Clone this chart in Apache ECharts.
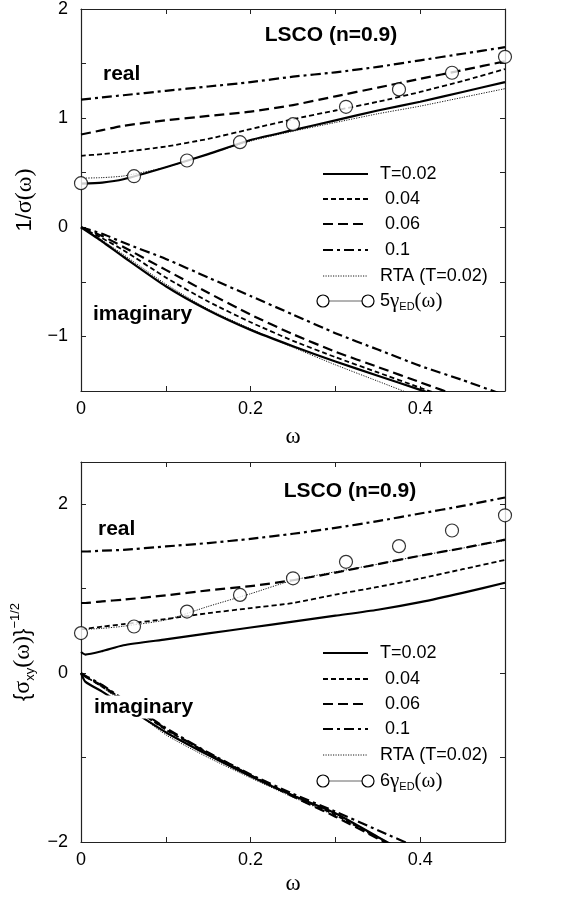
<!DOCTYPE html>
<html><head><meta charset="utf-8">
<script src="https://cdn.jsdelivr.net/npm/echarts@6/dist/echarts.min.js"></script>
<style>html,body{margin:0;padding:0;background:#fff}#c{width:564px;height:897px}</style>
</head><body><div id="c"></div>
<script>
// ---------- data ----------
const omega = [0, 0.025, 0.05, 0.1, 0.15, 0.2, 0.25, 0.3, 0.35, 0.4, 0.45, 0.5];
// top panel: 1/sigma(omega)
const reTopT002 = [0.40, 0.41, 0.44, 0.55, 0.67, 0.80, 0.89, 0.98, 1.07, 1.15, 1.24, 1.33];
const reTopT004 = [0.655, 0.67, 0.69, 0.74, 0.81, 0.90, 0.99, 1.07, 1.15, 1.24, 1.34, 1.45];
const reTopT006 = [0.85, 0.89, 0.93, 0.98, 1.02, 1.06, 1.12, 1.20, 1.28, 1.36, 1.44, 1.52];
const reTopT01  = [1.17, 1.19, 1.21, 1.25, 1.29, 1.33, 1.38, 1.42, 1.47, 1.53, 1.59, 1.65];
const reTopRTA  = [0.45, 0.455, 0.47, 0.55, 0.67, 0.79, 0.88, 0.96, 1.04, 1.11, 1.19, 1.27];
const imTopT002 = [0, -0.13, -0.27, -0.54, -0.76, -0.94, -1.09, -1.23, -1.36, -1.49, -1.62, -1.75];
const imTopT004 = [0, -0.10, -0.21, -0.46, -0.68, -0.87, -1.04, -1.19, -1.33, -1.47, -1.61, -1.75];
const imTopT006 = [0, -0.08, -0.18, -0.39, -0.60, -0.80, -0.98, -1.14, -1.28, -1.42, -1.56, -1.70];
const imTopT01  = [0, -0.06, -0.14, -0.29, -0.46, -0.63, -0.80, -0.97, -1.12, -1.27, -1.40, -1.54];
const imTopRTA  = [0, -0.12, -0.25, -0.52, -0.75, -0.93, -1.10, -1.26, -1.41, -1.56, -1.71, -1.86];
const omegaED = [0, 0.0625, 0.125, 0.1875, 0.25, 0.3125, 0.375, 0.4375, 0.5];
const gammaTop = [0.404, 0.468, 0.612, 0.780, 0.945, 1.104, 1.263, 1.416, 1.562];
// bottom panel: {sigma_xy(omega)}^(-1/2)
const omegaB = [0, 0.005, 0.025, 0.05, 0.1, 0.15, 0.2, 0.25, 0.3, 0.35, 0.4, 0.45, 0.5];
const reBotT002 = [0.25, 0.22, 0.26, 0.33, 0.40, 0.47, 0.54, 0.61, 0.68, 0.75, 0.84, 0.95, 1.07];
const reBotT004 = [0.52, 0.525, 0.55, 0.58, 0.64, 0.71, 0.77, 0.83, 0.93, 1.02, 1.12, 1.23, 1.34];
const reBotT006 = [0.83, 0.83, 0.85, 0.87, 0.92, 0.98, 1.03, 1.10, 1.19, 1.29, 1.39, 1.48, 1.58];
const reBotT01  = [1.44, 1.44, 1.45, 1.46, 1.50, 1.54, 1.59, 1.65, 1.72, 1.80, 1.89, 1.98, 2.08];
const reBotRTA  = [0.52, 0.52, 0.53, 0.555, 0.63, 0.79, 0.94, 1.10, 1.20, 1.29, 1.39, 1.48, 1.57];
const imBotT002 = [0, -0.10, -0.22, -0.38, -0.70, -0.97, -1.22, -1.45, -1.66, -1.94, -2.22, -2.5, -2.8];
const imBotT004 = [0, -0.04, -0.16, -0.33, -0.67, -0.95, -1.21, -1.45, -1.68, -1.95, -2.20, -2.5, -2.8];
const imBotT006 = [0, -0.04, -0.15, -0.32, -0.66, -0.95, -1.21, -1.46, -1.70, -1.96, -2.22, -2.5, -2.8];
const imBotT01  = [0, -0.03, -0.14, -0.31, -0.65, -0.94, -1.20, -1.43, -1.64, -1.86, -2.08, -2.3, -2.5];
const imBotRTA  = [0, -0.04, -0.17, -0.35, -0.73, -1.00, -1.24, -1.47, -1.69, -1.94, -2.20, -2.5, -2.8];
const gammaBot = [0.474, 0.552, 0.729, 0.926, 1.123, 1.318, 1.504, 1.689, 1.869];
const xTicks = [0, 0.2, 0.4];
const legendLabels = ['T=0.02', ' 0.04', ' 0.06', ' 0.1', 'RTA (T=0.02)'];

// ---------- styles ----------
const SANS = 'Liberation Sans, Arial, sans-serif';
const SERIF = 'Liberation Serif, Times New Roman, serif';
const styles = {
  T002: {type: 'solid', width: 2.2},
  T004: {type: [5, 3], width: 1.8},
  T006: {type: [10, 5], width: 2.2},
  T01:  {type: [10, 4, 3, 4], width: 2.2},
  RTA:  {type: [1.2, 1.3], width: 0.9}
};
const pair = (xs, ys) => xs.map((x, i) => [x, ys[i]]);
function line(name, xs, ys, st, g) {
  return {type: 'line', name, xAxisIndex: g * 2, yAxisIndex: g * 2, data: pair(xs, ys),
    showSymbol: false, symbol: 'none', smooth: 0.2, clip: true,
    lineStyle: {color: '#000', width: st.width, type: st.type, join: 'round'}, z: 3, silent: true};
}
function circles(ys, g) {
  return {type: 'scatter', xAxisIndex: g * 2, yAxisIndex: g * 2, data: pair(omegaED, ys),
    symbol: 'circle', symbolSize: 13, clip: false,
    itemStyle: {color: '#fff', borderColor: '#000', borderWidth: 1.2}, z: 5, silent: true};
}
const minus = v => String(v).replace('-', '\u2212');
function xAx(g, pos, labels, gap) {
  return {type: 'value', gridIndex: g, position: pos, min: 0, max: 0.5, interval: 0.1,
    axisLine: {show: true, onZero: false, lineStyle: {color: '#222', width: 1.2}},
    axisTick: {show: true, inside: true, length: 5, lineStyle: {color: '#222', width: 1}},
    splitLine: {show: false},
    axisLabel: {show: labels, margin: 9, color: '#000', fontFamily: SANS, fontSize: 18,
      formatter: v => xTicks.some(t => Math.abs(t - v) < 1e-6) ? String(+v.toFixed(1)) : ''},
    name: labels ? 'ω' : '', nameLocation: 'middle', nameGap: gap || 33,
    nameTextStyle: {fontFamily: SERIF, fontSize: 23, color: '#000'}};
}
function yAx(g, pos, min, max, interval, labelSet, name, rich) {
  return {type: 'value', gridIndex: g, position: pos, min, max, interval,
    axisLine: {show: true, onZero: false, lineStyle: {color: '#222', width: 1.2}},
    axisTick: {show: true, inside: true, length: 5, lineStyle: {color: '#222', width: 1}},
    splitLine: {show: false},
    axisLabel: {show: !!labelSet, margin: 13, color: '#000', fontFamily: SANS, fontSize: 18,
      formatter: v => labelSet && labelSet.some(t => Math.abs(t - v) < 1e-6) ? minus(Math.round(v)) : ''},
    name: name || '', nameLocation: 'middle', nameGap: 42,
    nameTextStyle: {fontFamily: SANS, fontSize: 22, color: '#000', rich: rich || {}}};
}

const richTop = {
  n: {fontFamily: SANS, fontSize: 22, color: '#000'},
  g: {fontFamily: SERIF, fontSize: 24, color: '#000'}
};
const richBot = {
  g: {fontFamily: SERIF, fontSize: 24, color: '#000', lineHeight: 28},
  n: {fontFamily: SANS, fontSize: 22, color: '#000', lineHeight: 28},
  sub: {fontFamily: SANS, fontSize: 13, color: '#000', verticalAlign: 'bottom', lineHeight: 13},
  sup: {fontFamily: SANS, fontSize: 13, color: '#000', verticalAlign: 'top', lineHeight: 13}
};

// ---------- legend & annotations (graphic) ----------
const G = [];
function txt(x, y, text, opt) {
  G.push({type: 'text', x, y, z: 100, silent: true, style: Object.assign({text, fill: '#000',
    font: '18px ' + SANS, textVerticalAlign: 'middle'}, opt || {})});
}
const legendKeys = ['T002', 'T004', 'T006', 'T01', 'RTA'];
function legend(ys, factor) {
  const x1 = 323, x2 = 368;
  legendKeys.forEach((k, i) => {
    const y = ys[i];
    const st = styles[k];
    G.push({type: 'line', z: 100, shape: {x1, y1: y, x2, y2: y}, silent: true,
      style: {stroke: '#000', lineWidth: st.width, lineDash: st.type === 'solid' ? null : st.type}});
    txt(380, y, legendLabels[i]);
  });
  const y = ys[5];
  G.push({type: 'line', z: 100, shape: {x1, y1: y, x2, y2: y}, silent: true, style: {stroke: '#666', lineWidth: 1}});
  [x1, x2].forEach(cx => G.push({type: 'circle', shape: {cx, cy: y, r: 6}, silent: true,
    style: {fill: '#fff', stroke: '#000', lineWidth: 1.2}, z: 101}));
  G.push({type: 'text', x: 380, y, z: 100, silent: true, style: {
    rich: {
      n: {fontFamily: SANS, fontSize: 18, fill: '#000'},
      g: {fontFamily: SERIF, fontSize: 21, fill: '#000'},
      sub: {fontFamily: SANS, fontSize: 11, fill: '#000', padding: [11, 0, 0, 0]}
    },
    text: '{n|' + factor + '}{g|γ}{sub|ED}{g|(ω)}', textVerticalAlign: 'middle'}});
}
legend([174, 199, 224, 250, 276, 301], '5');
legend([653, 679, 704, 729, 755, 781], '6');
const bold = {font: 'bold 21px ' + SANS};
txt(331, 35, 'LSCO (n=0.9)', Object.assign({textAlign: 'center'}, bold));
txt(103, 74, 'real', bold);
txt(93, 314, 'imaginary', bold);
txt(350, 491, 'LSCO (n=0.9)', Object.assign({textAlign: 'center'}, bold));
txt(98, 529, 'real', bold);
txt(93, 707, 'imaginary', Object.assign({backgroundColor: '#fff', padding: [1, 2, 1, 1]}, bold));

const chart = echarts.init(document.getElementById('c'), null, {renderer: 'canvas'});
chart.setOption({
  animation: false,
  backgroundColor: '#fff',
  grid: [
    {left: 81, top: 9, width: 424, height: 382},
    {left: 81, top: 462, width: 424, height: 380}
  ],
  xAxis: [xAx(0, 'bottom', true, 34), xAx(0, 'top', false), xAx(1, 'bottom', true, 30), xAx(1, 'top', false)],
  yAxis: [
    yAx(0, 'left', -1.5, 2, 0.5, [-1, 0, 1, 2], '{n|1/}{g|σ}{g|(ω)}', richTop),
    yAx(0, 'right', -1.5, 2, 0.5, null),
    yAx(1, 'left', -2, 2.5, 1, [-2, 0, 2], '{{g|σ}{sub|xy}{g|(ω)}}{sup|−1/2}', richBot),
    yAx(1, 'right', -2, 2.5, 1, null)
  ],
  series: [
    line('T=0.02', omega, reTopT002, styles.T002, 0),
    line('0.04', omega, reTopT004, styles.T004, 0),
    line('0.06', omega, reTopT006, styles.T006, 0),
    line('0.1', omega, reTopT01, styles.T01, 0),
    line('RTA', omega, reTopRTA, styles.RTA, 0),
    line('T=0.02 im', omega, imTopT002, styles.T002, 0),
    line('0.04 im', omega, imTopT004, styles.T004, 0),
    line('0.06 im', omega, imTopT006, styles.T006, 0),
    line('0.1 im', omega, imTopT01, styles.T01, 0),
    line('RTA im', omega, imTopRTA, styles.RTA, 0),
    circles(gammaTop, 0),
    line('T=0.02 b', omegaB, reBotT002, styles.T002, 1),
    line('0.04 b', omegaB, reBotT004, styles.T004, 1),
    line('0.06 b', omegaB, reBotT006, styles.T006, 1),
    line('0.1 b', omegaB, reBotT01, styles.T01, 1),
    line('RTA b', omegaB, reBotRTA, styles.RTA, 1),
    line('T=0.02 bi', omegaB, imBotT002, styles.T002, 1),
    line('0.04 bi', omegaB, imBotT004, styles.T004, 1),
    line('0.06 bi', omegaB, imBotT006, styles.T006, 1),
    line('0.1 bi', omegaB, imBotT01, styles.T01, 1),
    line('RTA bi', omegaB, imBotRTA, styles.RTA, 1),
    circles(gammaBot, 1)
  ],
  graphic: G
});
</script></body></html>
